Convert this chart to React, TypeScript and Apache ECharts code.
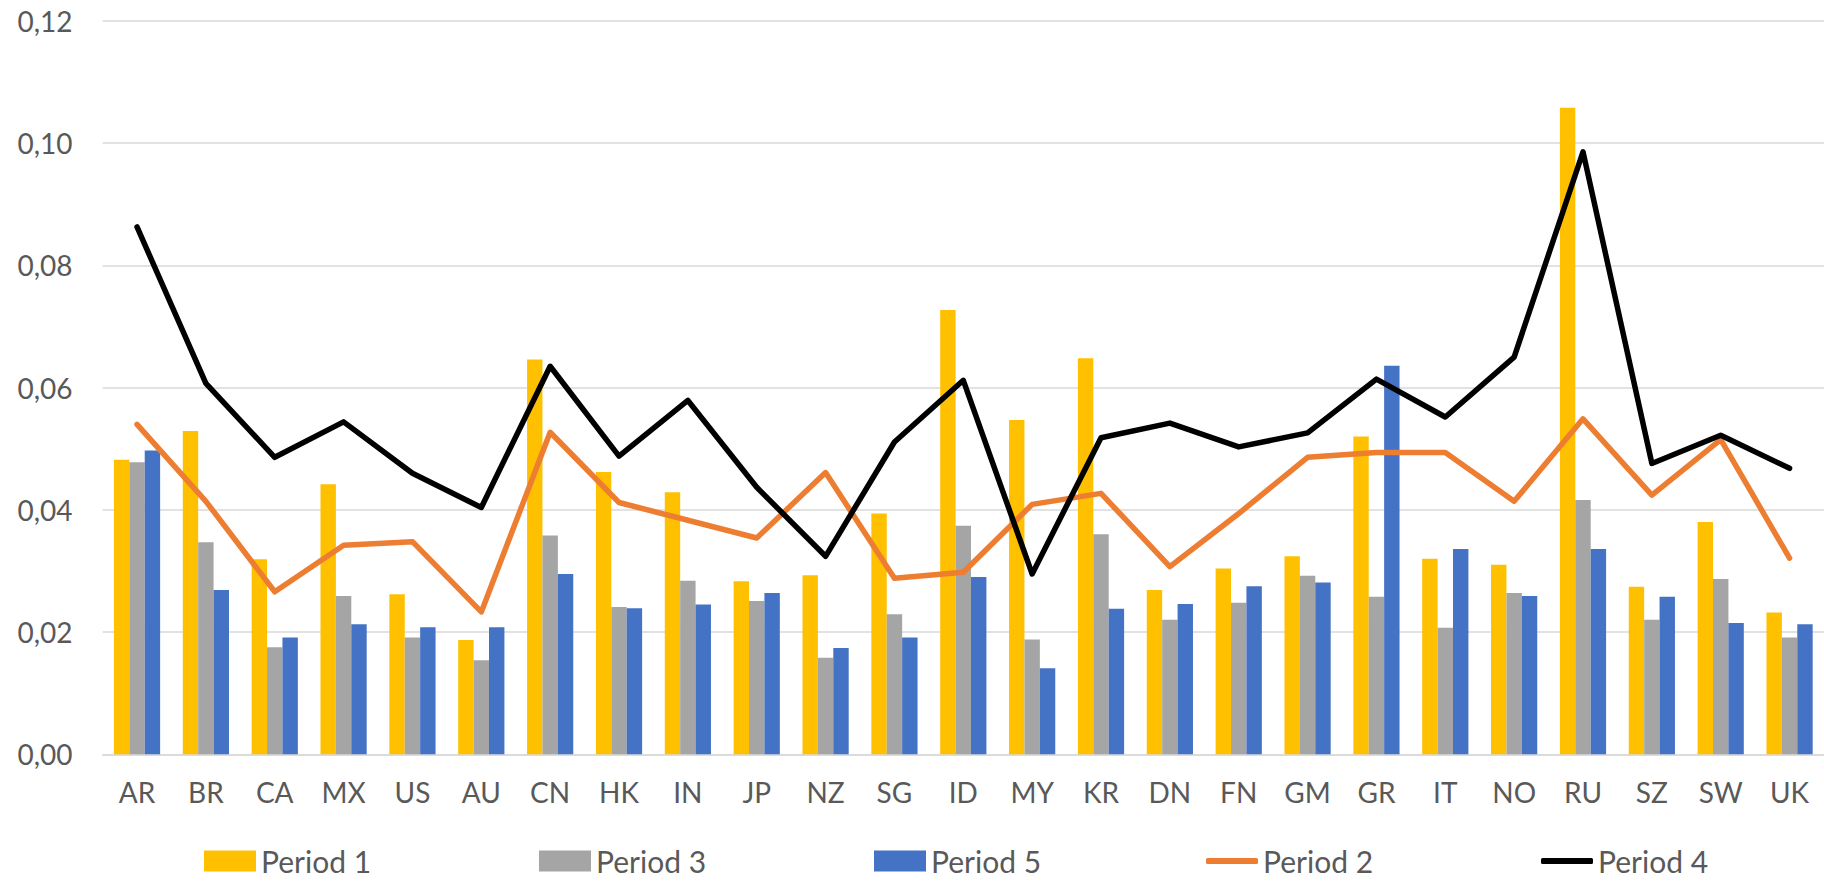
import React, { useEffect, useRef } from "react";
import * as echarts from "echarts";

const categories = ["AR","BR","CA","MX","US","AU","CN","HK","IN","JP","NZ","SG","ID","MY","KR","DN","FN","GM","GR","IT","NO","RU","SZ","SW","UK"];

const period1 = [0.0482,0.0529,0.0319,0.0442,0.0262,0.0187,0.0646,0.0462,0.0429,0.0283,0.0293,0.0394,0.0727,0.0547,0.0648,0.0269,0.0304,0.0324,0.0520,0.0320,0.0310,0.1058,0.0274,0.0380,0.0232];
const period3 = [0.0478,0.0347,0.0175,0.0259,0.0191,0.0154,0.0358,0.0241,0.0284,0.0251,0.0158,0.0229,0.0374,0.0188,0.0360,0.0220,0.0248,0.0292,0.0258,0.0207,0.0264,0.0416,0.0220,0.0287,0.0191];
const period5 = [0.0497,0.0269,0.0191,0.0213,0.0208,0.0208,0.0295,0.0239,0.0245,0.0264,0.0174,0.0191,0.0290,0.0141,0.0238,0.0246,0.0275,0.0281,0.0636,0.0336,0.0259,0.0336,0.0258,0.0215,0.0213];
const period2 = [0.0540,0.0414,0.0266,0.0342,0.0348,0.0233,0.0527,0.0412,0.0383,0.0354,0.0461,0.0288,0.0298,0.0409,0.0427,0.0307,0.0394,0.0486,0.0494,0.0494,0.0414,0.0549,0.0424,0.0515,0.0321];
const period4 = [0.0863,0.0607,0.0486,0.0544,0.0460,0.0404,0.0635,0.0488,0.0579,0.0437,0.0324,0.0511,0.0612,0.0295,0.0518,0.0542,0.0503,0.0526,0.0614,0.0552,0.0650,0.0986,0.0476,0.0522,0.0468];

const yTicks = { min: 0, max: 0.12, interval: 0.02 };

const FONT = "Lato";
const TEXT_COLOR = "#595959";
const GRID_COLOR = "#D9D9D9";

export default function App() {
  const ref = useRef<HTMLDivElement>(null);

  useEffect(() => {
    document.body.style.margin = "0";
    if (!ref.current) return;
    const chart = echarts.init(ref.current, undefined, { renderer: "svg" });

    const legendText = { fontFamily: FONT, fontSize: 30, color: TEXT_COLOR, lineHeight: 30 };
    const mkLegend = (name: string, left: number, icon: string, h: number) => ({
      data: [name],
      left,
      top: 846,
      padding: 0,
      itemGap: 0,
      itemWidth: 52,
      itemHeight: h,
      icon,
      textStyle: legendText,
      selectedMode: false,
    });

    const barBase = { type: "bar", barWidth: 15.4, barGap: "0%" };

    chart.setOption({
      animation: false,
      backgroundColor: "#ffffff",
      textStyle: { fontFamily: FONT },
      grid: { left: 102.6, top: 21, width: 1736, bottom: 127.7, containLabel: false },
      legend: [
        mkLegend("Period 1", 204, "rect", 21),
        mkLegend("Period 3", 539, "rect", 21),
        mkLegend("Period 5", 874, "rect", 21),
        mkLegend("Period 2", 1206, "roundRect", 6),
        mkLegend("Period 4", 1541, "roundRect", 6),
      ],
      xAxis: {
        type: "category",
        data: categories,
        boundaryGap: true,
        axisTick: { show: false },
        axisLine: { show: true, lineStyle: { color: GRID_COLOR, width: 1.5 } },
        axisLabel: { fontFamily: FONT, fontSize: 28, color: TEXT_COLOR, margin: 24, interval: 0 },
      },
      yAxis: {
        type: "value",
        min: yTicks.min,
        max: yTicks.max,
        interval: yTicks.interval,
        axisLine: { show: false },
        axisTick: { show: false },
        splitLine: { show: true, lineStyle: { color: GRID_COLOR, width: 1.5 } },
        axisLabel: {
          fontFamily: FONT,
          fontSize: 28,
          color: TEXT_COLOR,
          margin: 30,
          formatter: (v: number) => v.toFixed(2).replace(".", ","),
        },
      },
      series: [
        { ...barBase, name: "Period 1", data: period1, itemStyle: { color: "#FFC000" } },
        { ...barBase, name: "Period 3", data: period3, itemStyle: { color: "#A5A5A5" } },
        { ...barBase, name: "Period 5", data: period5, itemStyle: { color: "#4472C4" } },
        {
          type: "line",
          name: "Period 2",
          data: period2,
          symbol: "none",
          z: 3,
          itemStyle: { color: "#ED7D31" },
          lineStyle: { color: "#ED7D31", width: 5.5, cap: "round", join: "round" },
        },
        {
          type: "line",
          name: "Period 4",
          data: period4,
          symbol: "none",
          z: 4,
          itemStyle: { color: "#000000" },
          lineStyle: { color: "#000000", width: 5.5, cap: "round", join: "round" },
        },
      ],
    });

    return () => chart.dispose();
  }, []);

  return <div ref={ref} style={{ width: 1824, height: 882 }} />;
}
